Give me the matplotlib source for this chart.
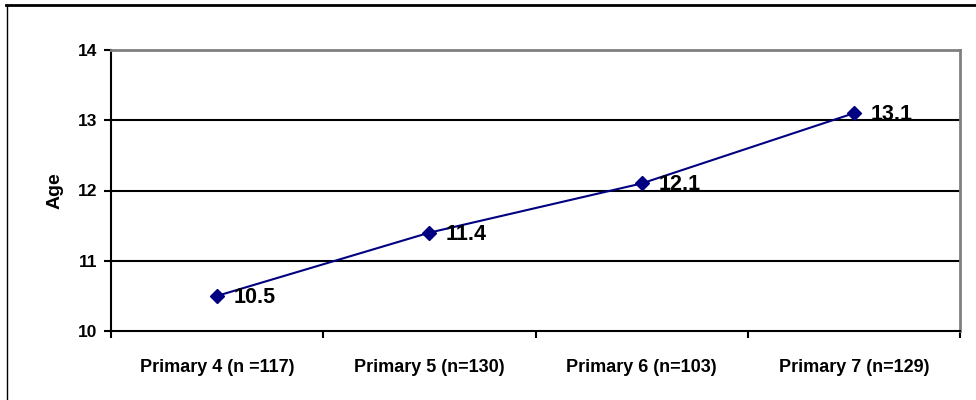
import matplotlib
matplotlib.use('Agg')

import matplotlib.pyplot as plt
from matplotlib.lines import Line2D

categories = ['Primary 4 (n =117)', 'Primary 5 (n=130)',
              'Primary 6 (n=103)', 'Primary 7 (n=129)']
ages = [10.5, 11.4, 12.1, 13.1]
y_ticks = [10, 11, 12, 13, 14]

NAVY = '#000080'
GREY = '#808080'

plt.rcParams['font.family'] = ['Liberation Sans', 'DejaVu Sans']
plt.rcParams['font.weight'] = 'bold'

fig = plt.figure(figsize=(9.76, 4.0), dpi=100)
ax = fig.add_axes([111 / 976, 1 - 331 / 400, 849 / 976, 281 / 400])

xs = list(range(len(categories)))
ax.plot(xs, ages, color=NAVY, lw=1.5, marker='D', markersize=7.5,
        markerfacecolor=NAVY, markeredgecolor=NAVY, zorder=4, clip_on=False)

for x, v in zip(xs, ages):
    ax.annotate(f'{v:.1f}', (x, v), xytext=(12, -1), textcoords='offset points',
                ha='left', va='center', fontsize=15.5, fontweight='bold',
                color='black', zorder=5)

ax.set_xlim(-0.5, len(categories) - 0.5)
ax.set_ylim(y_ticks[0], y_ticks[-1])

# gridlines
for y in y_ticks[1:-1]:
    ax.axhline(y, color='black', lw=1.5, zorder=1)

ax.set_yticks(y_ticks)
ax.set_yticklabels([str(t) for t in y_ticks], fontsize=12.5, fontweight='bold')
ax.set_xticks(xs)
ax.set_xticklabels(categories, fontsize=13, fontweight='bold')
ax.set_xticks([x - 0.5 for x in range(len(categories) + 1)], minor=True)
ax.tick_params(axis='x', which='major', length=0, pad=20)
ax.tick_params(axis='x', which='minor', length=5, width=1.5, color='black')
ax.tick_params(axis='y', length=5, width=1.5, pad=5, color='black')

ax.set_ylabel('Age', fontsize=14, fontweight='bold', labelpad=10)

ax.spines['left'].set_linewidth(1.5)
ax.spines['bottom'].set_linewidth(1.5)
ax.spines['top'].set_color(GREY)
ax.spines['top'].set_linewidth(2)
ax.spines['right'].set_color(GREY)
ax.spines['right'].set_linewidth(2)

# outer frame of the embedded chart
fig.add_artist(Line2D([6 / 976, 1.0], [1 - 5 / 400, 1 - 5 / 400],
                      transform=fig.transFigure, color='black', lw=2))
fig.add_artist(Line2D([6.5 / 976, 6.5 / 976], [0.0, 1 - 5 / 400],
                      transform=fig.transFigure, color='black', lw=1))

fig.savefig('out.png', dpi=100, facecolor='white')
